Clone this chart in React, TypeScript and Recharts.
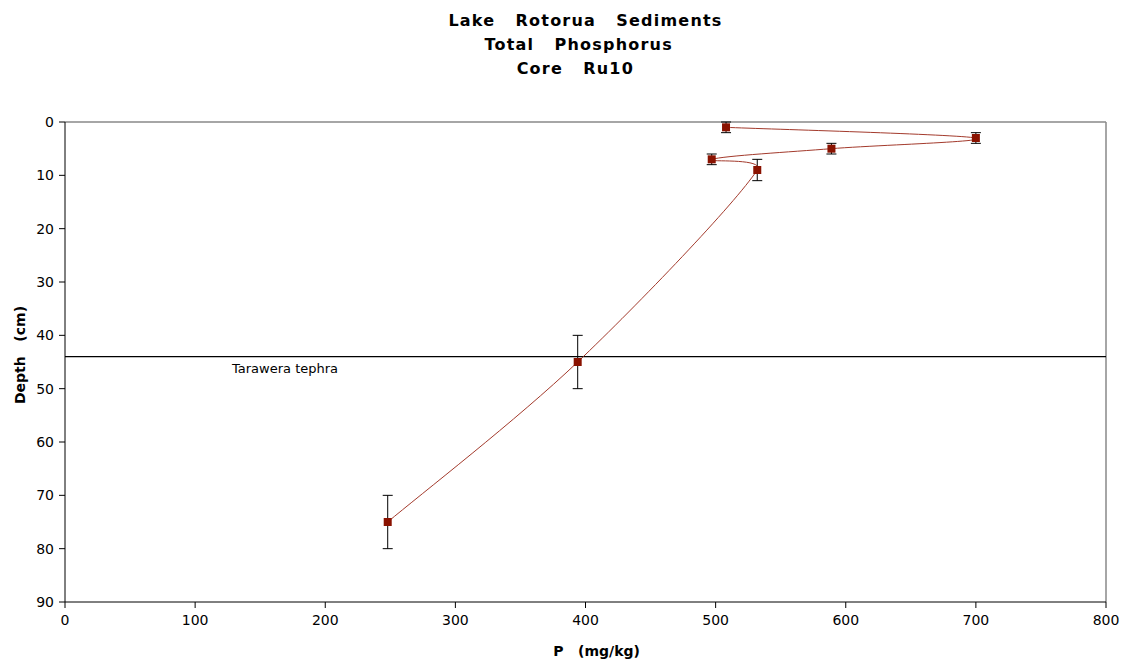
import { ScatterChart, Scatter, XAxis, YAxis, ErrorBar, ReferenceLine } from "recharts";

// core Ru10 total phosphorus profile
const phosphorus = [508, 700, 589, 497, 532, 394, 248];
const depths = [1, 3, 5, 7, 9, 45, 75];
const depthErrors = [1, 1, 1, 1, 2, 5, 5];

const xTicks = [0, 100, 200, 300, 400, 500, 600, 700, 800];
const yTicks = [0, 10, 20, 30, 40, 50, 60, 70, 80, 90];

const tephraDepth = 44;
const tephraLabel = "Tarawera tephra";
const titleLines = ["Lake   Rotorua   Sediments", "Total   Phosphorus  ", "Core   Ru10   "];

const data = phosphorus.map((p, i) => ({ p, depth: depths[i], err: depthErrors[i] }));

const FONT = "'DejaVu Sans', Verdana, sans-serif";

// spreadsheet-style smoothed line: Catmull-Rom, handles clamped to a third of the segment
function smoothCurve(context: any) {
  let pts: number[][] = [];
  const handle = (dx: number, dy: number, seg: number) => {
    const len = Math.hypot(dx, dy);
    const max = seg / 3;
    if (len > max && len > 0) return [(dx * max) / len, (dy * max) / len];
    return [dx, dy];
  };
  return {
    areaStart() {},
    areaEnd() {},
    lineStart() {
      pts = [];
    },
    point(x: number, y: number) {
      pts.push([+x, +y]);
    },
    lineEnd() {
      if (!pts.length) return;
      context.moveTo(pts[0][0], pts[0][1]);
      for (let i = 0; i < pts.length - 1; i++) {
        const p0 = pts[i - 1] || pts[i];
        const p1 = pts[i];
        const p2 = pts[i + 1];
        const p3 = pts[i + 2] || p2;
        const seg = Math.hypot(p2[0] - p1[0], p2[1] - p1[1]);
        const a = handle((p2[0] - p0[0]) / 6, (p2[1] - p0[1]) / 6, seg);
        const b = handle((p3[0] - p1[0]) / 6, (p3[1] - p1[1]) / 6, seg);
        context.bezierCurveTo(p1[0] + a[0], p1[1] + a[1], p2[0] - b[0], p2[1] - b[1], p2[0], p2[1]);
      }
    },
  };
}

const Marker = (props: any) => {
  const { cx, cy } = props;
  if (cx == null || cy == null) return null;
  return <rect x={cx - 4} y={cy - 4} width={8} height={8} fill="#8a1200" />;
};

const YTitle = (props: any) => {
  const vb = props.viewBox;
  const cy = vb.y + vb.height / 2 - 7;
  const x = 20;
  return (
    <text
      x={x}
      y={cy}
      transform={`rotate(-90, ${x}, ${cy})`}
      textAnchor="middle"
      dominantBaseline="central"
      fontFamily={FONT}
      fontWeight="bold"
      fontSize={14}
      fill="#000"
      style={{ whiteSpace: "pre" }}
    >
      {"Depth   (cm)"}
    </text>
  );
};

const XTitle = (props: any) => {
  const vb = props.viewBox;
  return (
    <text
      x={vb.x + vb.width / 2 + 11}
      y={656}
      textAnchor="middle"
      fontFamily={FONT}
      fontWeight="bold"
      fontSize={14}
      fill="#000"
      style={{ whiteSpace: "pre" }}
    >
      {"P   (mg/kg)"}
    </text>
  );
};

const TephraText = (props: any) => {
  const vb = props.viewBox;
  return (
    <text x={vb.x + 167} y={vb.y + 16} fontFamily={FONT} fontSize={13} fill="#000">
      {tephraLabel}
    </text>
  );
};

export default function App() {
  return (
    <div style={{ position: "absolute", left: 0, top: 0, width: 1132, height: 664, background: "#fff" }}>
      <div
        style={{
          position: "absolute",
          left: 65,
          top: 9,
          width: 1041,
          textAlign: "center",
          fontFamily: FONT,
          fontWeight: "bold",
          fontSize: 16,
          letterSpacing: 1.2,
          lineHeight: "24px",
          whiteSpace: "pre",
          color: "#000",
        }}
      >
        {titleLines.map((t) => (
          <div key={t}>{t}</div>
        ))}
      </div>
      <ScatterChart width={1132} height={664} margin={{ top: 122, right: 26, bottom: 0, left: 20 }}>
        <XAxis
          type="number"
          dataKey="p"
          domain={[0, 800]}
          ticks={xTicks}
          interval={0}
          height={62}
          tickSize={6}
          tickMargin={7}
          stroke="#000"
          tick={{ fill: "#000", fontSize: 14, fontFamily: FONT }}
          label={<XTitle />}
        />
        <YAxis
          type="number"
          dataKey="depth"
          domain={[0, 90]}
          ticks={yTicks}
          interval={0}
          reversed
          width={45}
          tickSize={6}
          tickMargin={5}
          stroke="#000"
          tick={{ fill: "#000", fontSize: 14, fontFamily: FONT }}
          label={<YTitle />}
        />
        <ReferenceLine y={0} stroke="#888" strokeWidth={1.5} />
        <ReferenceLine x={800} stroke="#888" strokeWidth={1.5} />
        <ReferenceLine y={tephraDepth} stroke="#000" strokeWidth={1.2} label={<TephraText />} />
        <Scatter
          data={data}
          line={{ stroke: "#a33a2c", strokeWidth: 1 }}
          lineJointType={smoothCurve as any}
          shape={<Marker />}
          isAnimationActive={false}
        >
          <ErrorBar dataKey="err" direction="y" width={5} stroke="#000" strokeWidth={1} />
        </Scatter>
      </ScatterChart>
    </div>
  );
}
